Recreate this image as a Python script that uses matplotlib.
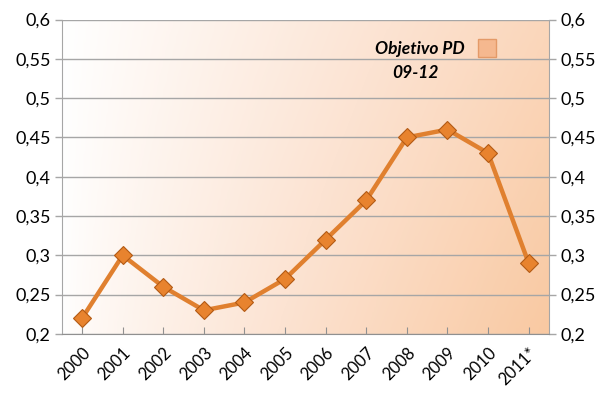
import matplotlib
matplotlib.use("Agg")
import matplotlib.pyplot as plt
import numpy as np
from matplotlib.lines import Line2D
from matplotlib.colors import LinearSegmentedColormap

years = ["2000", "2001", "2002", "2003", "2004", "2005", "2006", "2007", "2008", "2009", "2010", "2011*"]
values = [0.22, 0.30, 0.26, 0.23, 0.24, 0.27, 0.32, 0.37, 0.45, 0.46, 0.43, 0.29]
yticks = [0.2, 0.25, 0.3, 0.35, 0.4, 0.45, 0.5, 0.55, 0.6]
ytick_labels = ["0,2", "0,25", "0,3", "0,35", "0,4", "0,45", "0,5", "0,55", "0,6"]
legend_label = "Objetivo PD"
legend_label2 = "09-12"

plt.rcParams['font.family'] = ['Lato', 'DejaVu Sans']

fig = plt.figure(figsize=(6.12, 3.98), dpi=100)
ax = fig.add_axes([0.101, 0.161, 0.796, 0.790])

# gradient background
nx, ny = 256, 64
gx = np.linspace(0, 1, nx)
gy = np.linspace(0, 1, ny)
G = np.clip(0.74 * gx[None, :] + 0.26 * (gy[:, None]) * gx[None, :] ** 0.5, 0, 1)
cmap = LinearSegmentedColormap.from_list("bg", ["#FFFFFF", "#FCE3D2", "#F9C9A2"])
ax.imshow(G, cmap=cmap, extent=[0, 1, 0, 1], transform=ax.transAxes,
          aspect="auto", origin="upper", zorder=0, interpolation="bilinear")

x = np.arange(len(years))
ax.plot(x, values, color="#E0802F", linewidth=3.2, zorder=3,
        marker="D", markersize=9, markerfacecolor="#E8832E",
        markeredgecolor="#B35A14", markeredgewidth=0.8)

ax.set_xlim(-0.5, len(years) - 0.5)
ax.set_ylim(0.2, 0.6)
ax.set_yticks(yticks)
ax.set_yticklabels(ytick_labels)
ax.yaxis.grid(True, color="#A6A6A6", linewidth=1.0, zorder=1)
ax.set_axisbelow(True)
ax.tick_params(axis="y", length=5, width=1, color="#A6A6A6", direction="out",
               labelsize=13, pad=3, labelright=True, right=True, left=True, labelcolor="#000000")

ax.set_xticks(x)
ax.set_xticklabels(years, rotation=45, ha="right", rotation_mode="anchor", fontsize=12)
ax.tick_params(axis="x", which="major", length=5, color="#909090", direction="in", pad=8)

ax.spines["top"].set_visible(False)
ax.spines["bottom"].set_color("#909090")
ax.spines["left"].set_color("#A6A6A6")
ax.spines["right"].set_color("#A6A6A6")

h = Line2D([], [], linestyle="none", marker="s", markersize=13,
           markerfacecolor="#F5B88F", markeredgecolor="#E49A68")
leg = ax.legend([h], [legend_label], loc="center", bbox_to_anchor=(0.776, 0.905),
                frameon=False, markerfirst=False, handletextpad=0.3,
                prop={"weight": "bold", "style": "italic", "size": 12.5})
ax.text(0.726, 0.83, legend_label2, transform=ax.transAxes, ha="center", va="center",
        fontsize=12.5, fontweight="bold", fontstyle="italic")

fig.savefig("out.png", dpi=100)
